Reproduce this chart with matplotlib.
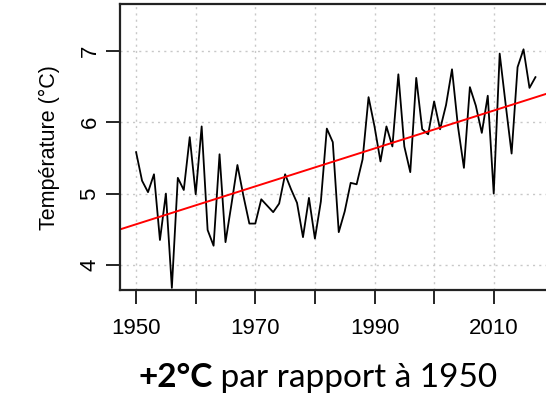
import numpy as np
import matplotlib
matplotlib.use("Agg")
import matplotlib.pyplot as plt

# Températures annuelles moyennes
years = list(range(1950, 2018))
temps = [5.58, 5.18, 5.02, 5.27, 4.35, 5.00, 3.68, 5.22, 5.05, 5.79,
         4.99, 5.94, 4.49, 4.27, 5.55, 4.32, 4.85, 5.40, 4.97, 4.58,
         4.58, 4.92, 4.83, 4.74, 4.86, 5.27, 5.06, 4.87, 4.39, 4.94,
         4.37, 4.89, 5.91, 5.72, 4.46, 4.75, 5.15, 5.13, 5.48, 6.35,
         5.94, 5.45, 5.94, 5.66, 6.67, 5.66, 5.30, 6.62, 5.90, 5.83,
         6.29, 5.90, 6.24, 6.74, 5.94, 5.36, 6.49, 6.23, 5.85, 6.37,
         5.00, 6.96, 6.25, 5.56, 6.77, 7.02, 6.48, 6.63]

x_ticks = [1950, 1960, 1970, 1980, 1990, 2000, 2010, 2020]
x_labels = ["1950", "", "1970", "", "1990", "", "2010", ""]
y_ticks = [4, 5, 6, 7]

plt.rcParams["font.family"] = ["Liberation Sans", "DejaVu Sans"]

fig = plt.figure(figsize=(5.46, 3.94), dpi=100)
ax = fig.add_axes([120 / 546, 104 / 394, 437.5 / 546, 285.7 / 394])

ax.plot(years, temps, color="black", lw=1.3)

# droite de tendance (régression linéaire)
slope, intercept = np.polyfit(years, temps, 1)
ax.axline((1950, slope * 1950 + intercept), slope=slope, color="red", lw=1.4)

ax.set_xlim(1947.3, 2020.7)
ax.set_ylim(3.65, 7.65)
ax.set_xticks(x_ticks)
ax.set_xticklabels(x_labels)
ax.set_yticks(y_ticks)
ax.set_yticklabels([str(v) for v in y_ticks], rotation=90, va="center")
ax.grid(color="#c8c8c8", ls=(0, (1.5, 3)), lw=1)
ax.tick_params(length=10, width=1.2, labelsize=16)
ax.tick_params(axis="x", pad=10)
ax.tick_params(axis="y", pad=4)
for s in ax.spines.values():
    s.set_linewidth(1.6)
    s.set_color("#222222")

ax.set_ylabel("Température (°C)", fontsize=15.5, labelpad=14)

# légende sous le graphique : partie grasse puis texte normal
lato = ["Lato", "DejaVu Sans"]
t1 = fig.text(138 / 546, 7 / 394, "+2°C", fontsize=24, family=lato,
              fontweight="bold", ha="left", va="baseline")
fig.canvas.draw()
bb = t1.get_window_extent()
fig.text(bb.x1 / fig.bbox.width, 7 / 394, " par rapport à 1950", fontsize=24,
         family=lato, ha="left", va="baseline")

fig.savefig("out.png", dpi=100)
